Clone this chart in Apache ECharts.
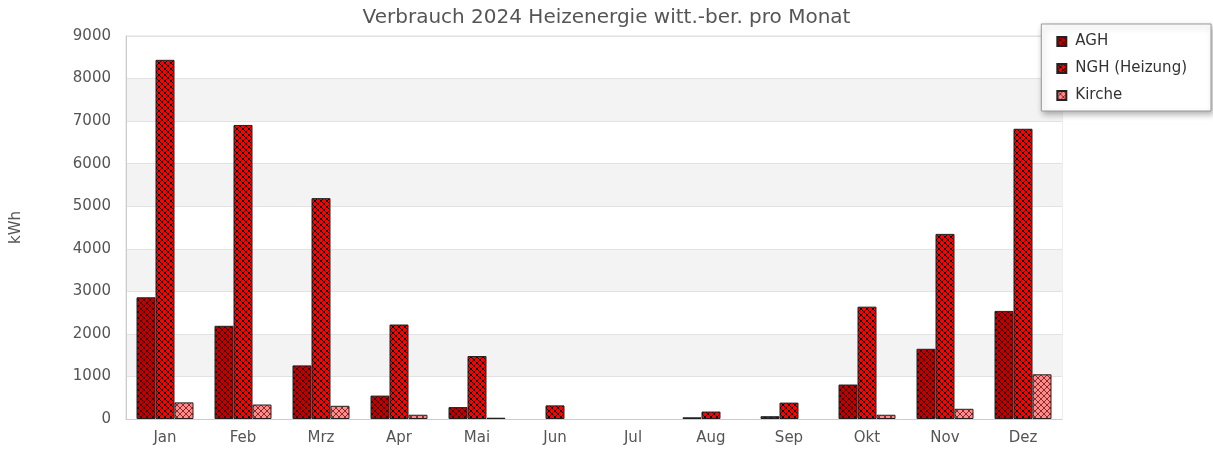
<!DOCTYPE html>
<html>
<head>
<meta charset="utf-8">
<script src="https://cdn.jsdelivr.net/npm/echarts@6/dist/echarts.min.js"></script>
<style>
  html, body { margin: 0; padding: 0; background: #fff; }
  #chart { width: 1213px; height: 449px; }
</style>
</head>
<body>
<div id="chart"></div>
<script>
// Monatswerte in kWh
var months = ['Jan', 'Feb', 'Mrz', 'Apr', 'Mai', 'Jun', 'Jul', 'Aug', 'Sep', 'Okt', 'Nov', 'Dez'];
var aghValues = [2860, 2190, 1260, 550, 280, 0, 0, 40, 65, 810, 1650, 2540];
var nghValues = [8440, 6910, 5190, 2220, 1480, 320, 0, 175, 385, 2640, 4350, 6820];
var kircheValues = [390, 340, 310, 100, 30, 0, 0, 0, 0, 100, 240, 1050];
var yTicks = [0, 1000, 2000, 3000, 4000, 5000, 6000, 7000, 8000, 9000];

// kreuzschraffur als muster
function makePattern(fill, line) {
    var c = document.createElement('canvas');
    c.width = 6;
    c.height = 6;
    var ctx = c.getContext('2d');
    ctx.fillStyle = fill;
    ctx.fillRect(0, 0, 6, 6);
    ctx.strokeStyle = line;
    ctx.lineWidth = 1;
    ctx.beginPath();
    ctx.moveTo(0, 0); ctx.lineTo(6, 6);
    ctx.moveTo(6, 0); ctx.lineTo(0, 6);
    ctx.stroke();
    return { image: c, repeat: 'repeat' };
}

var chart = echarts.init(document.getElementById('chart'));
var font = 'DejaVu Sans';

function barSeries(name, data, fill, line) {
    return {
        name: name,
        type: 'bar',
        // nullwerte nicht zeichnen
        data: data.map(function (v) { return v === 0 ? '-' : v; }),
        barWidth: 19,
        barGap: '0%',
        itemStyle: {
            color: makePattern(fill, line),
            borderColor: '#222',
            borderWidth: 1
        }
    };
}

option = {
    backgroundColor: '#fff',
    animation: false,
    title: {
        text: 'Verbrauch 2024 Heizenergie witt.-ber. pro Monat',
        left: 'center',
        top: 3,
        textStyle: { fontFamily: font, fontSize: 20, fontWeight: 'normal', color: '#555' }
    },
    legend: {
        orient: 'vertical',
        right: 2,
        top: 24,
        icon: 'rect',
        itemWidth: 9,
        itemHeight: 9,
        itemGap: 12,
        padding: [10, 24, 8, 15],
        backgroundColor: '#fff',
        borderColor: '#999',
        borderWidth: 1,
        shadowBlur: 6,
        shadowColor: 'rgba(0,0,0,0.3)',
        shadowOffsetX: 2,
        shadowOffsetY: 3,
        textStyle: { fontFamily: font, fontSize: 15, color: '#333', padding: [0, 0, 0, 4] }
    },
    grid: {
        left: 126,
        right: 151,
        top: 36,
        bottom: 30,
        show: true,
        borderColor: '#ddd',
        borderWidth: 1
    },
    xAxis: {
        type: 'category',
        data: months,
        axisLine: { lineStyle: { color: '#ccc' } },
        axisTick: { show: false },
        axisLabel: { fontFamily: font, fontSize: 15, color: '#555', margin: 12 }
    },
    yAxis: {
        type: 'value',
        min: yTicks[0],
        max: yTicks[yTicks.length - 1],
        interval: 1000,
        name: 'kWh',
        nameLocation: 'middle',
        nameGap: 102,
        nameTextStyle: { fontFamily: font, fontSize: 15, color: '#555' },
        axisLine: { show: true, lineStyle: { color: '#ccc' } },
        axisTick: { show: false },
        axisLabel: {
            fontFamily: font, fontSize: 15, color: '#555', margin: 15,
            formatter: function (v) { return String(v); }
        },
        splitLine: { lineStyle: { color: '#e2e2e2' } },
        splitArea: { show: true, areaStyle: { color: ['#fff', '#f3f3f3'] } }
    },
    series: [
        barSeries('AGH', aghValues, '#c00000', '#3a0000'),
        barSeries('NGH (Heizung)', nghValues, '#ff0000', '#000'),
        barSeries('Kirche', kircheValues, '#ff8a8a', '#8a2a2a')
    ]
};
chart.setOption(option);
</script>
</body>
</html>
